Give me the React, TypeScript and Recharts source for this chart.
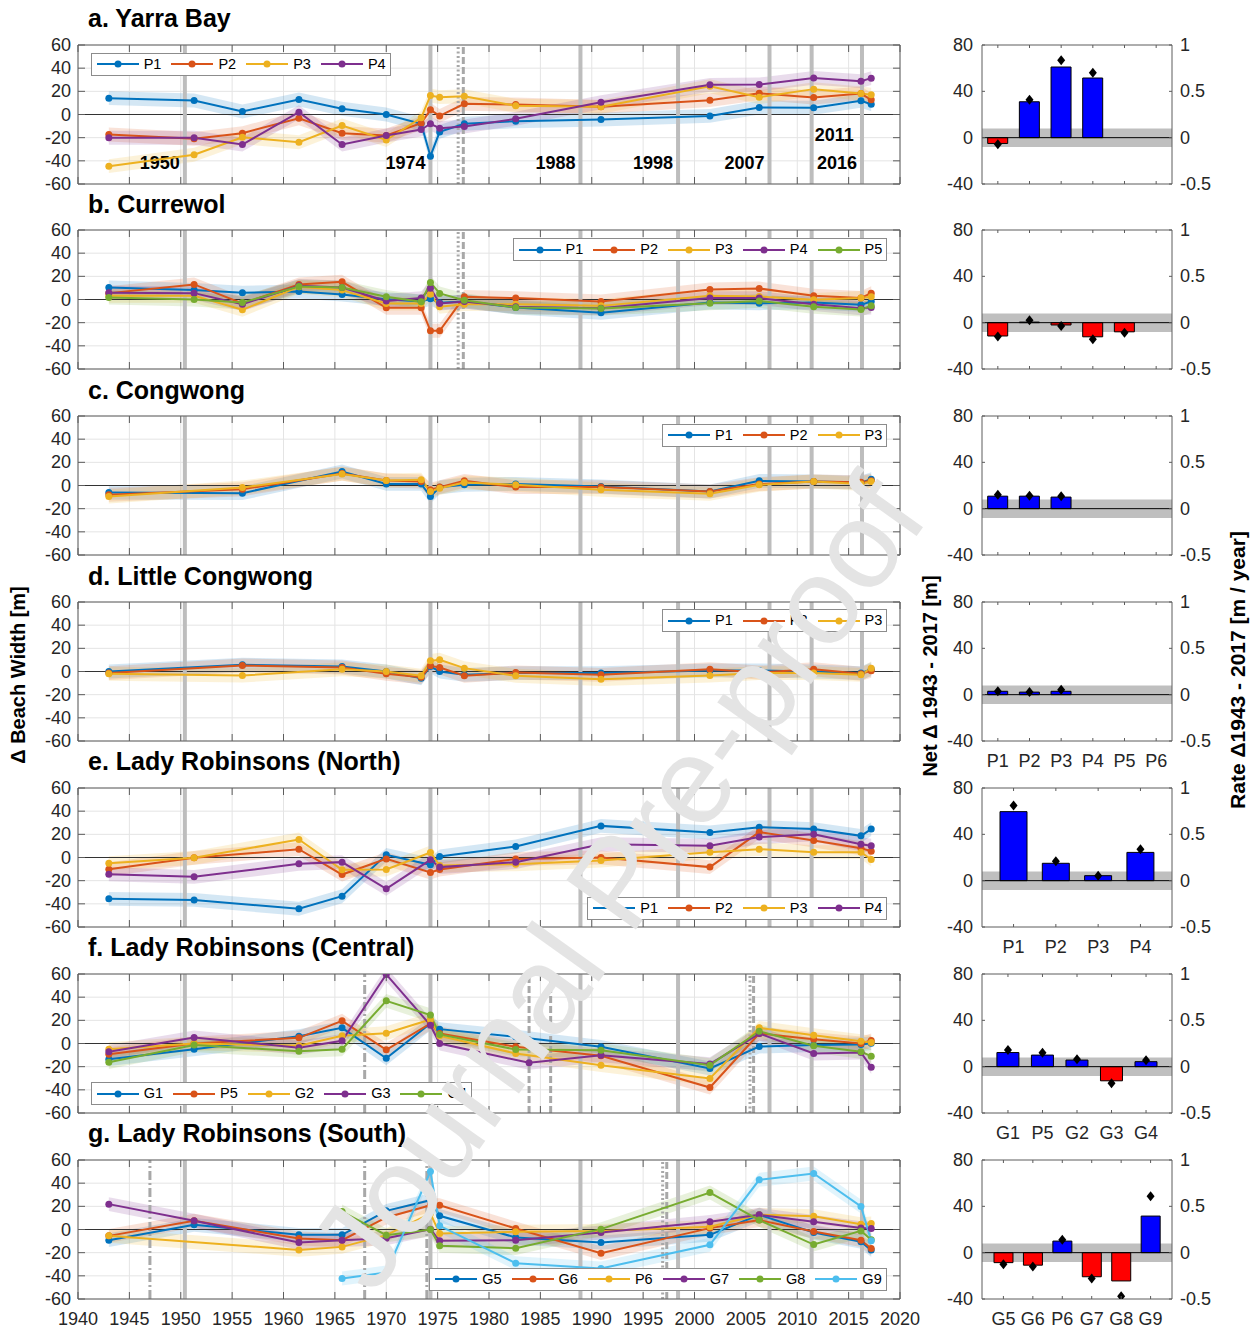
import React from 'react';
import {
  ComposedChart, Line, Area, Bar, Cell, XAxis, YAxis, CartesianGrid,
  ReferenceLine, ReferenceArea, Legend,
} from 'recharts';

// ---------------- Data: Δ beach width time series [m] ----------------
const yearsYarra = [1943.0, 1951.3, 1956.0, 1961.5, 1965.7, 1970.0, 1973.4, 1974.3, 1975.2, 1977.6, 1982.6, 1990.9, 2001.5, 2006.3, 2011.6, 2016.2, 2017.2];
const yarraP1 = [14.1, 12.1, 2.6, 13.0, 4.9, 0, -8, -36, -15, -8, -5.8, -4.3, -1.2, 6.0, 5.8, 11.8, 8.9];
const yarraP2 = [-17.3, -21, -16.1, -3.2, -16.1, -18.1, -7.5, 4.0, -1.2, 9.2, 8.6, 6.6, 12.4, 18.4, 14.7, 18.1, 12.7];
const yarraP3 = [-44.6, -34.8, -19.6, -23.9, -9.5, -22, -2.9, 16.4, 15, 15.8, 7.5, 6.6, 24.4, 15, 21.9, 18.1, 17];
const yarraP4 = [-20.1, -20.1, -25.9, 2.0, -25.9, -18.1, -13, -8, -11.8, -10.4, -3.7, 10.6, 25.6, 25.9, 31.6, 28.8, 31.4];

const yearsCurrewol = [1943.0, 1951.3, 1956.0, 1961.5, 1965.7, 1970.0, 1973.4, 1974.3, 1975.2, 1977.6, 1982.6, 1990.9, 2001.5, 2006.3, 2011.6, 2016.2, 2017.2];
const currP1 = [10.4, 8.3, 5.8, 6.9, 4.3, 0.3, -1.7, 0.6, -2.9, -1.7, -6.9, -11.5, -2.6, -3.2, -2.6, -4.6, -1.7];
const currP2 = [5.5, 13, -3.5, 13, 15.3, -7.2, -7.2, -27, -27, 2.3, 1.2, -1.7, 8.6, 9.5, 3.2, 1.4, 5.5];
const currP3 = [3.2, 3.2, -8.9, 10.9, 8.1, -3.5, -3.5, 4.6, -6.3, -4, -4, -5.5, 3.2, 2.6, -0.3, 1.4, 2.3];
const currP4 = [5.8, 5.5, -4, 11.8, 10.4, -1.2, 1.2, 9.8, -3.5, -1.7, -6.3, -7.5, 1.2, 1.2, -4, -7.5, -6.9];
const currP5 = [1.7, 0, -2.6, 11.2, 10.4, 2.3, -2, 14.7, 5.2, -0.6, -6.9, -7.8, -3.2, -1.2, -6.3, -8.6, -5.5];

const yearsCongwong = [1943.0, 1956.0, 1965.7, 1970.0, 1973.4, 1974.3, 1975.2, 1977.6, 1982.6, 1990.9, 2001.5, 2006.3, 2011.6, 2016.2, 2017.2];
const congP1 = [-6, -6.6, 12.1, 1.4, 1.4, -9.5, -1.5, 0.6, 1.4, -0.9, -5.2, 4, 3.5, 2.5, 5.5];
const congP2 = [-8, -3.2, 10.4, 4.3, 3.5, -3.7, -1.4, 4, -1.4, -1.4, -5.2, 1.2, 3.5, 2.9, 4];
const congP3 = [-9.5, -1.7, 10, 4.3, 4.9, -5.2, -2.3, 2.6, 0.6, -3.7, -7.2, 0.6, 3.5, 1.4, 3.5];

const yearsLittle = [1943.0, 1956.0, 1965.7, 1970.0, 1973.4, 1974.3, 1975.2, 1977.6, 1982.6, 1990.9, 2001.5, 2006.3, 2011.6, 2016.2, 2017.2];
const littleP1 = [0, 5.8, 4.3, 0, -5.8, 4.3, 0, -2.9, -1.4, -1.4, 0.9, 0.9, 0, -1.4, 2];
const littleP2 = [-1.4, 5.2, 3.5, -2, -4.9, 4.9, 3.5, -3.7, -0.9, -2.9, 2, -0.9, 2, -2, 0.6];
const littleP3 = [-2, -3.5, 2, 0, -3.7, 9.2, 10.1, 2.9, -3.7, -6.6, -3.5, -1.4, -1.4, -2.9, 2.9];

const yearsNorth = [1943.0, 1951.3, 1961.5, 1965.7, 1970.0, 1974.3, 1975.2, 1982.6, 1990.9, 2001.5, 2006.3, 2011.6, 2016.2, 2017.2];
const northP1 = [-35.7, -36.6, -44.3, -33.4, 2.3, -6.3, 0.9, 9.5, 27.3, 21.6, 26.2, 24.5, 18.7, 24.5];
const northP2 = [-10.1, -0.3, 7.2, -14.7, -1.2, -13, -10.4, -1.2, 0, -8.3, 21.9, 14.7, 8, 5.5];
const northP3 = [-4.9, -0.3, 15.5, -10.6, -10.4, 4.3, -6.9, -5.8, -2.6, 4.6, 7.2, 4.6, 4.6, -1.7];
const northP4 = [-14.4, -16.7, -5.5, -4, -27, -2, -8.3, -4, 11.5, 10.1, 17.6, 20.1, 11.5, 10.1];

const yearsCentral = [1943.0, 1951.3, 1961.5, 1965.7, 1970.0, 1974.3, 1975.2, 1982.6, 1983.9, 1990.9, 2001.5, 2006.3, 2011.6, 2016.2, 2017.2];
const centG1 = [-13.5, -4.9, 6.3, 13.5, -12.7, 17.3, 12.4, 5.8, null, -2.9, -21.6, -2.6, -1.4, -0.9, 0.3];
const centP5 = [-9.2, 0, 4.9, 19.6, -5.5, 17.3, 8.6, -2.9, null, -10.6, -38, 8.6, 3.7, 0, 2.6];
const centG2 = [-4.9, 0, -2, 6.6, 8.9, 20.7, 6.6, -8.6, null, -18.7, -30.2, 13.5, 7.2, 2, 0.9];
const centG3 = [-7.2, 5.2, -3.7, 2.3, 59.6, 15.8, 0, null, -16.7, -10.1, -17.8, 8.6, -8.6, -7.8, -20.4];
const centG4 = [-16.1, -1.4, -6.6, -4.9, 36.8, 24.5, 7.8, -5.2, null, -5.8, -18.7, 10.6, -2, -7.2, -10.9];

const yearsSouth = [1943.0, 1951.3, 1961.5, 1965.7, 1970.0, 1974.3, 1975.2, 1982.6, 1990.9, 2001.5, 2006.3, 2011.6, 2016.2, 2017.2];
const southG5 = [-9.2, 4, -4.6, -4.6, 16.1, 25.3, 11.8, -6.9, -11.2, -4.6, 12.7, -2.6, -10.6, -17.8];
const southG6 = [-5.5, 7.5, -7.8, -9.2, 10.4, 21, 21, 0.9, -20.4, 1.2, 8.1, -1.7, -9.2, -16.4];
const southP6 = [-5.5, null, -17.6, -15, -4.9, 13.8, -3.5, -2, -1.2, 2.3, 12.7, 11.5, 4.6, 5.2];
const southG7 = [21.9, 7.5, -11.2, -9.2, -7.5, 0.3, -9.8, -9.2, -2.6, 6.6, 12.7, 6.6, 1.2, 0.9];
const southG8 = [null, null, null, 15.5, -4.9, 0, -14.1, -16.1, 0.3, 31.9, 8.1, -13, -1.2, -8.9];
const southG9 = [null, null, null, -42.3, -37.1, 50, 3.2, -29.1, -33.7, -13.2, 42.9, 48.3, 19.9, -9.8];

const UNCERTAINTY = 6; // half-width of shaded band [m]

// Aerial photo / event years (vertical reference lines)
const photoYears = [1950.4, 1974.3, 1988.9, 1998.4, 2007.3, 2011.4, 2016.3];
const photoLabels = ['1950', '1974', '1988', '1998', '2007', '2011', '2016'];
const dottedAB = [1977.0];
const dashedAB = [1977.5];
const dashdotCentral = [1967.9];
const dashedCentral = [1983.9, 1986.0, 2005.75];
const dottedCentral = [2005.4];
const dashdotSouth = [1947.0, 1967.9, 1973.95];
const dottedSouth = [1996.9];
const dashedSouth = [1997.3];

// Axis ticks
const xTicks = [1940, 1945, 1950, 1955, 1960, 1965, 1970, 1975, 1980, 1985, 1990, 1995, 2000, 2005, 2010, 2015, 2020];
const yTicks = [-60, -40, -20, 0, 20, 40, 60];
const netTicks = [-40, 0, 40, 80];
const rateTicks = [-0.5, 0, 0.5, 1];

// ---------------- Data: net change (bars) and rate (diamonds) ----------------
const barNamesA = ['P1', 'P2', 'P3', 'P4', 'P5', 'P6'];
const netA = [-5, 31, 61, 51.5, null, null];
const rateA = [-0.07, 0.41, 0.835, 0.7, null, null];
const barNamesB = ['P1', 'P2', 'P3', 'P4', 'P5', 'P6'];
const netB = [-11.5, 0.5, -2, -12.2, -7.9, null];
const rateB = [-0.15, 0.025, -0.035, -0.18, -0.11, null];
const barNamesC = ['P1', 'P2', 'P3', 'P4', 'P5', 'P6'];
const netC = [10.8, 10.8, 10, null, null, null];
const rateC = [0.15, 0.14, 0.135, null, null, null];
const barNamesD = ['P1', 'P2', 'P3', 'P4', 'P5', 'P6'];
const netD = [2.9, 2.2, 2.9, null, null, null];
const rateD = [0.036, 0.03, 0.054, null, null, null];
const barNamesE = ['P1', 'P2', 'P3', 'P4'];
const netE = [59.6, 15, 4.3, 24.4];
const rateE = [0.81, 0.21, 0.054, 0.34];
const barNamesF = ['G1', 'P5', 'G2', 'G3', 'G4'];
const netF = [12.2, 10, 5.7, -12.2, 4.3];
const rateF = [0.18, 0.15, 0.08, -0.18, 0.07];
const barNamesG = ['G5', 'G6', 'P6', 'G7', 'G8', 'G9'];
const netG = [-8.6, -10.8, 10, -20.8, -24.4, 31.6];
const rateG = [-0.125, -0.15, 0.14, -0.28, -0.47, 0.61];
const NOISE_BAND = 8; // ± m grey band

// ---------------- Styling / layout ----------------
const FONT = '"Liberation Sans", Arial, Helvetica, sans-serif';
const INK = '#262626';
const BOX = '#5c5c5c';
const GRID = '#e4e4e4';
const COLORS = ['#0072BD', '#D95319', '#EDB120', '#7E2F8E', '#77AC30', '#4DBEEE'];
const PANEL_TOP0 = 44.5;
const PANEL_STEP = 185.85;
const PT = 10;
const PH = 139;
const PB = PT + PH;
const PL = 78;
const PR = 900;
const LW = 940; // left chart width

type Series = { name: string; values: (number | null)[] };
type Panel = {
  title: string;
  years: number[];
  series: Series[];
  dotted: number[];
  dashed: number[];
  dashdot: number[];
  labels: boolean;
  legend: { left?: number; right?: number; top: number };
};

const mk = (names: string[], vals: (number | null)[][]): Series[] => names.map((n, i) => ({ name: n, values: vals[i] }));

const panels: Panel[] = [
  { title: 'a. Yarra Bay', years: yearsYarra, series: mk(['P1', 'P2', 'P3', 'P4'], [yarraP1, yarraP2, yarraP3, yarraP4]), dotted: dottedAB, dashed: dashedAB, dashdot: [], labels: true, legend: { left: 90.7, top: 52.7 } },
  { title: 'b. Currewol', years: yearsCurrewol, series: mk(['P1', 'P2', 'P3', 'P4', 'P5'], [currP1, currP2, currP3, currP4, currP5]), dotted: dottedAB, dashed: dashedAB, dashdot: [], labels: false, legend: { right: 887.3, top: 238.3 } },
  { title: 'c. Congwong', years: yearsCongwong, series: mk(['P1', 'P2', 'P3'], [congP1, congP2, congP3]), dotted: [], dashed: [], dashdot: [], labels: false, legend: { right: 887.3, top: 424 } },
  { title: 'd. Little Congwong', years: yearsLittle, series: mk(['P1', 'P2', 'P3'], [littleP1, littleP2, littleP3]), dotted: [], dashed: [], dashdot: [], labels: false, legend: { right: 887.3, top: 609.3 } },
  { title: 'e. Lady Robinsons (North)', years: yearsNorth, series: mk(['P1', 'P2', 'P3', 'P4'], [northP1, northP2, northP3, northP4]), dotted: [], dashed: [], dashdot: [], labels: false, legend: { right: 887.3, top: 896.7 } },
  { title: 'f. Lady Robinsons (Central)', years: yearsCentral, series: mk(['G1', 'P5', 'G2', 'G3', 'G4'], [centG1, centP5, centG2, centG3, centG4]), dotted: dottedCentral, dashed: dashedCentral, dashdot: dashdotCentral, labels: false, legend: { left: 90.7, top: 1082.3 } },
  { title: 'g. Lady Robinsons (South)', years: yearsSouth, series: mk(['G5', 'G6', 'P6', 'G7', 'G8', 'G9'], [southG5, southG6, southP6, southG7, southG8, southG9]), dotted: dottedSouth, dashed: dashedSouth, dashdot: dashdotSouth, labels: false, legend: { right: 886.7, top: 1267.7 } },
];

type BarSet = { names: string[]; net: (number | null)[]; rate: (number | null)[]; pad: number; showX: boolean };
const bars: BarSet[] = [
  { names: barNamesA, net: netA, rate: rateA, pad: 0, showX: false },
  { names: barNamesB, net: netB, rate: rateB, pad: 0, showX: false },
  { names: barNamesC, net: netC, rate: rateC, pad: 0, showX: false },
  { names: barNamesD, net: netD, rate: rateD, pad: 0, showX: true },
  { names: barNamesE, net: netE, rate: rateE, pad: 10.4, showX: true },
  { names: barNamesF, net: netF, rate: rateF, pad: 8.7, showX: true },
  { names: barNamesG, net: netG, rate: rateG, pad: 6.7, showX: true },
];

// ---------------- Components ----------------
function LegendBox({ series }: { series: Series[] }) {
  return (
    <div style={{ display: 'flex', alignItems: 'center', background: '#fff', border: '1px solid #8c8c8c', height: 23, boxSizing: 'border-box', padding: '0 4px 0 5px', fontFamily: FONT, whiteSpace: 'nowrap' }}>
      {series.map((s, i) => (
        <div key={s.name} style={{ display: 'flex', alignItems: 'center', marginRight: i < series.length - 1 ? 10 : 0 }}>
          <svg width={42} height={12} style={{ display: 'block' }}>
            <line x1={0} x2={42} y1={6} y2={6} stroke={COLORS[i]} strokeWidth={2} />
            <circle cx={21} cy={6} r={3.5} fill={COLORS[i]} />
          </svg>
          <span style={{ marginLeft: 5, fontSize: 14.5, color: '#000', lineHeight: '15px' }}>{s.name}</span>
        </div>
      ))}
    </div>
  );
}

const YearLabel = (props: any) => {
  const { viewBox, text, start, dy } = props;
  if (!viewBox) return null;
  const x = start ? viewBox.x + 3 : viewBox.x - 5;
  return (
    <text x={x} y={viewBox.y + dy} textAnchor={start ? 'start' : 'end'} dominantBaseline="central" fontSize={18} fontWeight="bold" fill="#000" fontFamily={FONT}>
      {text}
    </text>
  );
};

function LeftPanel({ p, top, last }: { p: Panel; top: number; last: boolean }) {
  const rows = p.years.map((yr, i) => {
    const r: any = { year: yr };
    p.series.forEach((s) => {
      const v = s.values[i];
      r[s.name] = v;
      r[s.name + '_band'] = v == null ? null : [v - UNCERTAINTY, v + UNCERTAINTY];
    });
    return r;
  });
  const H = last ? 186 : 160;
  const xAxisH = last ? 30 : 1;
  const xTick = (props: any) => {
    const { x, payload } = props;
    return (
      <g>
        <line x1={x} x2={x} y1={PB} y2={PB - 7} stroke={BOX} />
        <line x1={x} x2={x} y1={PT} y2={PT + 7} stroke={BOX} />
        {last && (
          <text x={x} y={PB + 20} textAnchor="middle" dominantBaseline="central" fontSize={18} fill={INK} fontFamily={FONT}>
            {payload.value}
          </text>
        )}
      </g>
    );
  };
  const yTick = (props: any) => {
    const { y, payload } = props;
    return (
      <g>
        <line x1={PL} x2={PL + 7} y1={y} y2={y} stroke={BOX} />
        <line x1={PR} x2={PR - 7} y1={y} y2={y} stroke={BOX} />
        <text x={PL - 7} y={y} textAnchor="end" dominantBaseline="central" fontSize={18} fill={INK} fontFamily={FONT}>
          {payload.value}
        </text>
      </g>
    );
  };
  const chartTop = top - PT;
  const lg = p.legend;
  const legendStyle: any = { top: lg.top - chartTop, width: 'auto', height: 'auto' };
  if (lg.left != null) { legendStyle.left = lg.left; legendStyle.right = 'auto'; }
  else { legendStyle.right = LW - (lg.right as number); legendStyle.left = 'auto'; }

  return (
    <div style={{ position: 'absolute', left: 0, top: chartTop, width: LW, height: H }}>
      <ComposedChart width={LW} height={H} data={rows} margin={{ top: PT - 1, right: LW - PR - 1, bottom: H - PB - xAxisH, left: 0 }}>
        <CartesianGrid stroke={GRID} />
        <XAxis dataKey="year" type="number" domain={[1940, 2020]} ticks={xTicks} interval={0} allowDataOverflow height={xAxisH} tickLine={false} tick={xTick} axisLine={{ stroke: BOX }} />
        <XAxis xAxisId="top" orientation="top" dataKey="year" type="number" domain={[1940, 2020]} ticks={xTicks} allowDataOverflow height={1} tick={false} tickLine={false} axisLine={{ stroke: BOX }} />
        <YAxis type="number" domain={[-60, 60]} ticks={yTicks} interval={0} allowDataOverflow width={PL} tickLine={false} tick={yTick} axisLine={{ stroke: BOX }} />
        <YAxis yAxisId="r" orientation="right" type="number" domain={[-60, 60]} ticks={yTicks} allowDataOverflow width={1} tick={false} tickLine={false} axisLine={{ stroke: BOX }} />
        <ReferenceLine y={0} stroke="#333" strokeWidth={1} />
        {photoYears.map((yr, i) => (
          <ReferenceLine
            key={'ph' + yr}
            x={yr}
            stroke="#bdbdbd"
            strokeWidth={4}
            label={p.labels ? <YearLabel text={photoLabels[i]} start={photoLabels[i] === '2011'} dy={photoLabels[i] === '2011' ? 89.8 : 117.8} /> : undefined}
          />
        ))}
        {p.dotted.map((yr) => <ReferenceLine key={'dt' + yr} x={yr} stroke="#a8a8a8" strokeWidth={3} strokeDasharray="2 2.5" />)}
        {p.dashed.map((yr) => <ReferenceLine key={'ds' + yr} x={yr} stroke="#a8a8a8" strokeWidth={3} strokeDasharray="7 3" />)}
        {p.dashdot.map((yr) => <ReferenceLine key={'dd' + yr} x={yr} stroke="#a8a8a8" strokeWidth={3} strokeDasharray="9 3 2 3" />)}
        {p.series.map((s, i) => (
          <Area key={s.name + 'a'} dataKey={s.name + '_band'} type="linear" stroke="none" fill={COLORS[i]} fillOpacity={0.17} connectNulls isAnimationActive={false} activeDot={false} legendType="none" />
        ))}
        {p.series.map((s, i) => (
          <Line key={s.name} dataKey={s.name} name={s.name} type="linear" stroke={COLORS[i]} strokeWidth={2} dot={{ r: 3.5, fill: COLORS[i], stroke: COLORS[i], strokeWidth: 0 }} activeDot={false} connectNulls isAnimationActive={false} />
        ))}
        <Legend layout="horizontal" verticalAlign="middle" align="center" wrapperStyle={legendStyle} content={() => <LegendBox series={p.series} />} />
      </ComposedChart>
    </div>
  );
}

const Diamond = (props: any) => {
  const { cx, cy, index, value } = props;
  if (value == null || cy == null || Number.isNaN(cy)) return <g key={'dm' + index} />;
  return <polygon key={'dm' + index} points={`${cx},${cy - 5} ${cx + 4},${cy} ${cx},${cy + 5} ${cx - 4},${cy}`} fill="#000" />;
};

function BarPanel({ b, top }: { b: BarSet; top: number }) {
  const rows = b.names.map((n, i) => ({ name: n, net: b.net[i], rate: b.rate[i] }));
  const H = b.showX ? 186 : 160;
  const xAxisH = b.showX ? 30 : 1;
  const BL = 60, BR = 250;
  const xTick = (props: any) => {
    const { x, payload } = props;
    return (
      <g>
        <line x1={x} x2={x} y1={PB} y2={PB - 3} stroke={BOX} />
        <line x1={x} x2={x} y1={PT} y2={PT + 3} stroke={BOX} />
        {b.showX && (
          <text x={x} y={PB + 20} textAnchor="middle" dominantBaseline="central" fontSize={18} fill={INK} fontFamily={FONT}>
            {payload.value}
          </text>
        )}
      </g>
    );
  };
  const lTick = (props: any) => {
    const { y, payload } = props;
    return (
      <g>
        <line x1={BL} x2={BL + 3} y1={y} y2={y} stroke={BOX} />
        <text x={BL - 9} y={y} textAnchor="end" dominantBaseline="central" fontSize={18} fill={INK} fontFamily={FONT}>{payload.value}</text>
      </g>
    );
  };
  const rTick = (props: any) => {
    const { y, payload } = props;
    return (
      <g>
        <line x1={BR} x2={BR - 3} y1={y} y2={y} stroke={BOX} />
        <text x={BR + 8} y={y} textAnchor="start" dominantBaseline="central" fontSize={18} fill={INK} fontFamily={FONT}>{payload.value}</text>
      </g>
    );
  };
  return (
    <div style={{ position: 'absolute', left: 922, top: top - PT, width: 310, height: H }}>
      <ComposedChart width={310} height={H} data={rows} margin={{ top: PT - 1, right: 0, bottom: H - PB - xAxisH, left: 0 }} barCategoryGap="18%">
        <XAxis dataKey="name" padding={{ left: b.pad, right: b.pad }} interval={0} height={xAxisH} tickLine={false} tick={xTick} axisLine={{ stroke: BOX }} />
        <XAxis xAxisId="top" orientation="top" dataKey="name" height={1} tick={false} tickLine={false} axisLine={{ stroke: BOX }} />
        <YAxis yAxisId="left" type="number" domain={[-40, 80]} ticks={netTicks} interval={0} allowDataOverflow width={BL} tickLine={false} tick={lTick} axisLine={{ stroke: BOX }} />
        <YAxis yAxisId="right" orientation="right" type="number" domain={[-0.5, 1]} ticks={rateTicks} interval={0} allowDataOverflow width={60} tickLine={false} tick={rTick} axisLine={{ stroke: BOX }} />
        <ReferenceArea xAxisId="top" yAxisId="left" y1={-NOISE_BAND} y2={NOISE_BAND} fill="#bfbfbf" fillOpacity={1} stroke="none" />
        <ReferenceLine xAxisId="top" yAxisId="left" y={0} stroke="#000" strokeWidth={1} />
        <Bar yAxisId="left" dataKey="net" stroke="#000" strokeWidth={1} isAnimationActive={false}>
          {rows.map((r, i) => (
            <Cell key={i} fill={r.net != null && r.net < 0 ? '#FF0000' : '#0000FF'} />
          ))}
        </Bar>
        <Line yAxisId="right" dataKey="rate" stroke="none" dot={Diamond} activeDot={false} isAnimationActive={false} />
      </ComposedChart>
    </div>
  );
}

export default function App() {
  return (
    <div style={{ position: 'absolute', left: 0, top: 0, width: 1257, height: 1329, background: '#fff', fontFamily: FONT, overflow: 'hidden' }}>
      {panels.map((p, i) => {
        const top = PANEL_TOP0 + i * PANEL_STEP;
        return (
          <React.Fragment key={p.title}>
            <div style={{ position: 'absolute', left: 88, top: top - 39.5, fontSize: 25, fontWeight: 'bold', lineHeight: '26px', whiteSpace: 'nowrap', color: '#000' }}>
              {p.title}
            </div>
            <LeftPanel p={p} top={top} last={i === panels.length - 1} />
            <BarPanel b={bars[i]} top={top} />
          </React.Fragment>
        );
      })}
      <div style={{ position: 'absolute', left: 18, top: 675, transform: 'translate(-50%, -50%) rotate(-90deg)', whiteSpace: 'nowrap', fontWeight: 'bold', fontSize: 20, color: '#000' }}>
        Δ Beach Width [m]
      </div>
      <div style={{ position: 'absolute', left: 930, top: 676, transform: 'translate(-50%, -50%) rotate(-90deg)', whiteSpace: 'nowrap', fontWeight: 'bold', fontSize: 20, color: '#000' }}>
        Net Δ 1943 - 2017 [m]
      </div>
      <div style={{ position: 'absolute', left: 1238, top: 670, transform: 'translate(-50%, -50%) rotate(-90deg)', whiteSpace: 'nowrap', fontWeight: 'bold', fontSize: 21, color: '#000' }}>
        Rate Δ1943 - 2017 [m / year]
      </div>
      <svg width={1257} height={1329} style={{ position: 'absolute', left: 0, top: 0, pointerEvents: 'none' }}>
        <text x={617} y={882} textAnchor="middle" dominantBaseline="central" fontSize={124} fill="#e4e4e4" fontFamily={FONT} transform="rotate(-54.5 617 882)">
          Journal Pre-proof
        </text>
      </svg>
    </div>
  );
}
